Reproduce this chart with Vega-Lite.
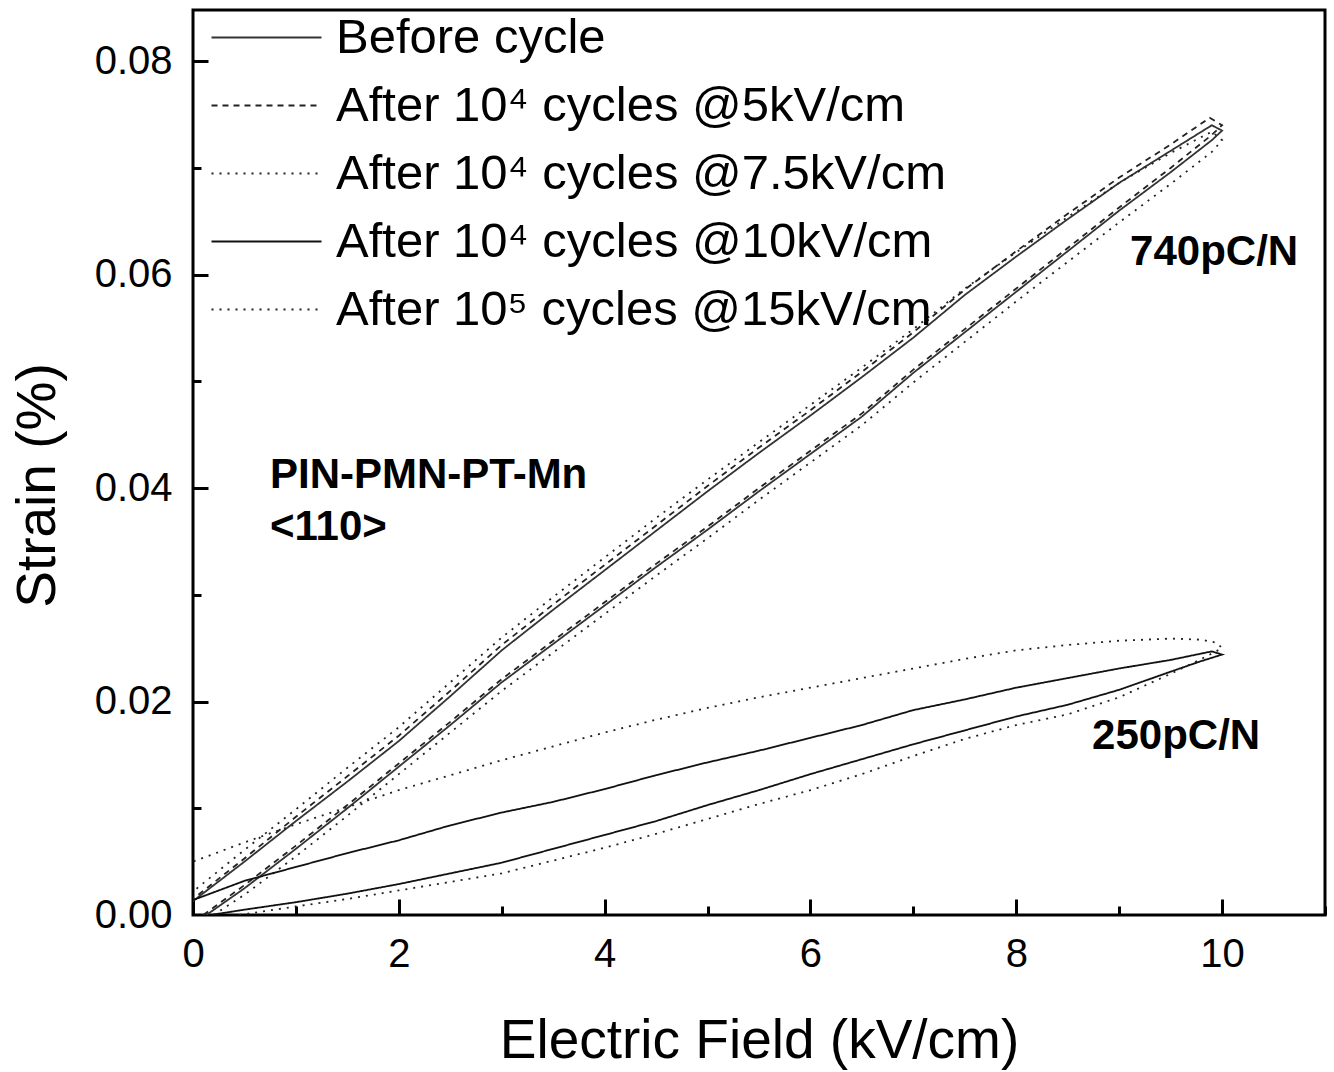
{
  "$schema": "https://vega.github.io/schema/vega-lite/v6.json",
  "autosize": "none",
  "width": 1132,
  "height": 905,
  "padding": {"left": 193, "top": 10, "right": 9, "bottom": 157},
  "background": "white",
  "config": {
    "view": {"stroke": "black", "strokeWidth": 3},
    "font": "Liberation Sans",
    "axis": {"grid": false, "labelFont": "Liberation Sans", "titleFont": "Liberation Sans", "labelColor": "black", "titleColor": "black", "tickColor": "black", "domain": false, "labelFlush": false}
  },
  "datasets": {
    "names": [
      {"s": "B", "name": "Before cycle"},
      {"s": "D", "name": "After 10⁴ cycles @5kV/cm"},
      {"s": "T", "name": "After 10⁴ cycles @7.5kV/cm"},
      {"s": "S", "name": "After 10⁴ cycles @10kV/cm"},
      {"s": "F", "name": "After 10⁵ cycles @15kV/cm"}
    ],
    "notes": [
      {"t": "740pC/N", "x": 9.106, "y": 0.0621},
      {"t": "250pC/N", "x": 8.737, "y": 0.01677},
      {"t": "PIN-PMN-PT-Mn", "x": 0.748, "y": 0.04122},
      {"t": "<110>", "x": 0.748, "y": 0.03635}
    ],
    "curves": [
      {"s":"B","o":1,"x":0.13,"y":0},{"s":"B","o":2,"x":0.5,"y":0.0025},{"s":"B","o":3,"x":1,"y":0.0062},{"s":"B","o":4,"x":1.5,"y":0.0100},{"s":"B","o":5,"x":2,"y":0.0139},{"s":"B","o":6,"x":2.5,"y":0.0178},{"s":"B","o":7,"x":3,"y":0.0218},{"s":"B","o":8,"x":3.5,"y":0.0254},{"s":"B","o":9,"x":4,"y":0.029},{"s":"B","o":10,"x":4.5,"y":0.0326},{"s":"B","o":11,"x":5,"y":0.0361},{"s":"B","o":12,"x":5.5,"y":0.0397},{"s":"B","o":13,"x":6,"y":0.0432},{"s":"B","o":14,"x":6.5,"y":0.0467},{"s":"B","o":15,"x":7,"y":0.0508},{"s":"B","o":16,"x":7.5,"y":0.0546},{"s":"B","o":17,"x":8,"y":0.0584},{"s":"B","o":18,"x":8.5,"y":0.0622},{"s":"B","o":19,"x":9,"y":0.066},{"s":"B","o":20,"x":9.5,"y":0.0696},{"s":"B","o":21,"x":9.9,"y":0.0726},{"s":"B","o":22,"x":10,"y":0.0735},
      {"s":"B","o":23,"x":9.9,"y":0.0740},{"s":"B","o":24,"x":9.5,"y":0.0716},{"s":"B","o":25,"x":9,"y":0.0686},{"s":"B","o":26,"x":8.5,"y":0.0652},{"s":"B","o":27,"x":8,"y":0.0617},{"s":"B","o":28,"x":7.5,"y":0.0581},{"s":"B","o":29,"x":7,"y":0.0541},{"s":"B","o":30,"x":6.5,"y":0.0504},{"s":"B","o":31,"x":6,"y":0.0468},{"s":"B","o":32,"x":5.5,"y":0.0433},{"s":"B","o":33,"x":5,"y":0.0397},{"s":"B","o":34,"x":4.5,"y":0.036},{"s":"B","o":35,"x":4,"y":0.0323},{"s":"B","o":36,"x":3.5,"y":0.0286},{"s":"B","o":37,"x":3,"y":0.0248},{"s":"B","o":38,"x":2.5,"y":0.0205},{"s":"B","o":39,"x":2,"y":0.0163},{"s":"B","o":40,"x":1.5,"y":0.0125},{"s":"B","o":41,"x":1,"y":0.0088},{"s":"B","o":42,"x":0.5,"y":0.005},{"s":"B","o":43,"x":0,"y":0.0013},

      {"s":"D","o":1,"x":0.1,"y":0},{"s":"D","o":2,"x":0.5,"y":0.0028},{"s":"D","o":3,"x":1,"y":0.0065},{"s":"D","o":4,"x":1.5,"y":0.0103},{"s":"D","o":5,"x":2,"y":0.0142},{"s":"D","o":6,"x":2.5,"y":0.0181},{"s":"D","o":7,"x":3,"y":0.0221},{"s":"D","o":8,"x":3.5,"y":0.0257},{"s":"D","o":9,"x":4,"y":0.0293},{"s":"D","o":10,"x":4.5,"y":0.0329},{"s":"D","o":11,"x":5,"y":0.0364},{"s":"D","o":12,"x":5.5,"y":0.04},{"s":"D","o":13,"x":6,"y":0.0435},{"s":"D","o":14,"x":6.5,"y":0.047},{"s":"D","o":15,"x":7,"y":0.0511},{"s":"D","o":16,"x":7.5,"y":0.0549},{"s":"D","o":17,"x":8,"y":0.0587},{"s":"D","o":18,"x":8.5,"y":0.0625},{"s":"D","o":19,"x":9,"y":0.0663},{"s":"D","o":20,"x":9.5,"y":0.07},{"s":"D","o":21,"x":9.9,"y":0.0731},{"s":"D","o":22,"x":10,"y":0.074},
      {"s":"D","o":23,"x":9.88,"y":0.0747},{"s":"D","o":24,"x":9.5,"y":0.0722},{"s":"D","o":25,"x":9,"y":0.0691},{"s":"D","o":26,"x":8.5,"y":0.0657},{"s":"D","o":27,"x":8,"y":0.0622},{"s":"D","o":28,"x":7.5,"y":0.0586},{"s":"D","o":29,"x":7,"y":0.0546},{"s":"D","o":30,"x":6.5,"y":0.0509},{"s":"D","o":31,"x":6,"y":0.0473},{"s":"D","o":32,"x":5.5,"y":0.0438},{"s":"D","o":33,"x":5,"y":0.0402},{"s":"D","o":34,"x":4.5,"y":0.0365},{"s":"D","o":35,"x":4,"y":0.0328},{"s":"D","o":36,"x":3.5,"y":0.0291},{"s":"D","o":37,"x":3,"y":0.0253},{"s":"D","o":38,"x":2.5,"y":0.021},{"s":"D","o":39,"x":2,"y":0.0168},{"s":"D","o":40,"x":1.5,"y":0.013},{"s":"D","o":41,"x":1,"y":0.0092},{"s":"D","o":42,"x":0.5,"y":0.0053},{"s":"D","o":43,"x":0,"y":0.0015},

      {"s":"T","o":1,"x":0.2,"y":0},{"s":"T","o":2,"x":0.5,"y":0.0019},{"s":"T","o":3,"x":1,"y":0.0055},{"s":"T","o":4,"x":1.5,"y":0.0093},{"s":"T","o":5,"x":2,"y":0.0132},{"s":"T","o":6,"x":2.5,"y":0.0171},{"s":"T","o":7,"x":3,"y":0.021},{"s":"T","o":8,"x":3.5,"y":0.0246},{"s":"T","o":9,"x":4,"y":0.0282},{"s":"T","o":10,"x":4.5,"y":0.0318},{"s":"T","o":11,"x":5,"y":0.0353},{"s":"T","o":12,"x":5.5,"y":0.0389},{"s":"T","o":13,"x":6,"y":0.0424},{"s":"T","o":14,"x":6.5,"y":0.0459},{"s":"T","o":15,"x":7,"y":0.0499},{"s":"T","o":16,"x":7.5,"y":0.0537},{"s":"T","o":17,"x":8,"y":0.0575},{"s":"T","o":18,"x":8.5,"y":0.0612},{"s":"T","o":19,"x":9,"y":0.0649},{"s":"T","o":20,"x":9.5,"y":0.0685},{"s":"T","o":21,"x":9.9,"y":0.0715},{"s":"T","o":22,"x":10,"y":0.0726},
      {"s":"T","o":23,"x":9.9,"y":0.0734},{"s":"T","o":24,"x":9.5,"y":0.0714},{"s":"T","o":25,"x":9,"y":0.0686},{"s":"T","o":26,"x":8.5,"y":0.0654},{"s":"T","o":27,"x":8,"y":0.0621},{"s":"T","o":28,"x":7.5,"y":0.0587},{"s":"T","o":29,"x":7,"y":0.0549},{"s":"T","o":30,"x":6.5,"y":0.0513},{"s":"T","o":31,"x":6,"y":0.0478},{"s":"T","o":32,"x":5.5,"y":0.0443},{"s":"T","o":33,"x":5,"y":0.0408},{"s":"T","o":34,"x":4.5,"y":0.0372},{"s":"T","o":35,"x":4,"y":0.0335},{"s":"T","o":36,"x":3.5,"y":0.0298},{"s":"T","o":37,"x":3,"y":0.026},{"s":"T","o":38,"x":2.5,"y":0.0218},{"s":"T","o":39,"x":2,"y":0.0176},{"s":"T","o":40,"x":1.5,"y":0.0138},{"s":"T","o":41,"x":1,"y":0.0099},{"s":"T","o":42,"x":0.5,"y":0.0061},{"s":"T","o":43,"x":0,"y":0.0022},

      {"s":"S","o":1,"x":0.17,"y":0},{"s":"S","o":2,"x":0.5,"y":0.0005},{"s":"S","o":3,"x":1,"y":0.0012},{"s":"S","o":4,"x":1.5,"y":0.002},{"s":"S","o":5,"x":2,"y":0.0029},{"s":"S","o":6,"x":2.5,"y":0.0039},{"s":"S","o":7,"x":3,"y":0.0049},{"s":"S","o":8,"x":3.5,"y":0.0062},{"s":"S","o":9,"x":4,"y":0.0075},{"s":"S","o":10,"x":4.5,"y":0.0088},{"s":"S","o":11,"x":5,"y":0.0103},{"s":"S","o":12,"x":5.5,"y":0.0117},{"s":"S","o":13,"x":6,"y":0.0132},{"s":"S","o":14,"x":6.5,"y":0.0146},{"s":"S","o":15,"x":7,"y":0.016},{"s":"S","o":16,"x":7.5,"y":0.0173},{"s":"S","o":17,"x":8,"y":0.0186},{"s":"S","o":18,"x":8.5,"y":0.0197},{"s":"S","o":19,"x":9,"y":0.0211},{"s":"S","o":20,"x":9.5,"y":0.0228},{"s":"S","o":21,"x":9.8,"y":0.0238},{"s":"S","o":22,"x":10,"y":0.0244},
      {"s":"S","o":23,"x":9.9,"y":0.0247},{"s":"S","o":24,"x":9.5,"y":0.0239},{"s":"S","o":25,"x":9,"y":0.0231},{"s":"S","o":26,"x":8.5,"y":0.0222},{"s":"S","o":27,"x":8,"y":0.0213},{"s":"S","o":28,"x":7.5,"y":0.0202},{"s":"S","o":29,"x":7,"y":0.0192},{"s":"S","o":30,"x":6.5,"y":0.0178},{"s":"S","o":31,"x":6,"y":0.0166},{"s":"S","o":32,"x":5.5,"y":0.0154},{"s":"S","o":33,"x":5,"y":0.0143},{"s":"S","o":34,"x":4.5,"y":0.0131},{"s":"S","o":35,"x":4,"y":0.0118},{"s":"S","o":36,"x":3.5,"y":0.0106},{"s":"S","o":37,"x":3,"y":0.0096},{"s":"S","o":38,"x":2.5,"y":0.0084},{"s":"S","o":39,"x":2,"y":0.007},{"s":"S","o":40,"x":1.5,"y":0.0058},{"s":"S","o":41,"x":1,"y":0.0045},{"s":"S","o":42,"x":0.5,"y":0.0032},{"s":"S","o":43,"x":0,"y":0.0014},

      {"s":"F","o":1,"x":0.45,"y":0},{"s":"F","o":2,"x":1,"y":0.0008},{"s":"F","o":3,"x":1.5,"y":0.0015},{"s":"F","o":4,"x":2,"y":0.0023},{"s":"F","o":5,"x":2.5,"y":0.0031},{"s":"F","o":6,"x":3,"y":0.0039},{"s":"F","o":7,"x":3.5,"y":0.0051},{"s":"F","o":8,"x":4,"y":0.0063},{"s":"F","o":9,"x":4.5,"y":0.0076},{"s":"F","o":10,"x":5,"y":0.009},{"s":"F","o":11,"x":5.5,"y":0.0104},{"s":"F","o":12,"x":6,"y":0.0117},{"s":"F","o":13,"x":6.5,"y":0.0132},{"s":"F","o":14,"x":7,"y":0.0149},{"s":"F","o":15,"x":7.5,"y":0.0165},{"s":"F","o":16,"x":8,"y":0.0178},{"s":"F","o":17,"x":8.5,"y":0.0188},{"s":"F","o":18,"x":9,"y":0.0204},{"s":"F","o":19,"x":9.5,"y":0.0226},{"s":"F","o":20,"x":9.8,"y":0.024},{"s":"F","o":21,"x":10,"y":0.025},
      {"s":"F","o":22,"x":9.95,"y":0.0255},{"s":"F","o":23,"x":9.8,"y":0.0258},{"s":"F","o":24,"x":9.5,"y":0.0259},{"s":"F","o":25,"x":9,"y":0.0257},{"s":"F","o":26,"x":8.5,"y":0.0253},{"s":"F","o":27,"x":8,"y":0.0248},{"s":"F","o":28,"x":7.5,"y":0.024},{"s":"F","o":29,"x":7,"y":0.0231},{"s":"F","o":30,"x":6.5,"y":0.0222},{"s":"F","o":31,"x":6,"y":0.0213},{"s":"F","o":32,"x":5.5,"y":0.0204},{"s":"F","o":33,"x":5,"y":0.0194},{"s":"F","o":34,"x":4.5,"y":0.0183},{"s":"F","o":35,"x":4,"y":0.0171},{"s":"F","o":36,"x":3.5,"y":0.0158},{"s":"F","o":37,"x":3,"y":0.0145},{"s":"F","o":38,"x":2.5,"y":0.0131},{"s":"F","o":39,"x":2,"y":0.0117},{"s":"F","o":40,"x":1.5,"y":0.0101},{"s":"F","o":41,"x":1,"y":0.0085},{"s":"F","o":42,"x":0.5,"y":0.0068},{"s":"F","o":43,"x":0,"y":0.005}
    ]
  },
  "layer": [
    {
      "data": {"name": "curves"},
      "transform": [
        {"lookup": "s", "from": {"data": {"name": "names"}, "key": "s", "fields": ["name"]}}
      ],
      "mark": {"type": "line", "strokeWidth": 1.8, "clip": true},
      "encoding": {
        "x": {
          "field": "x", "type": "quantitative",
          "scale": {"domain": [0, 11], "nice": false, "zero": false},
          "axis": {
            "orient": "bottom",
            "values": [0, 2, 4, 6, 8, 10], "format": "d",
            "ticks": false,
            "labelFontSize": 40, "labelPadding": 19,
            "title": "Electric Field (kV/cm)", "titleFontSize": 55, "titleFontWeight": "normal", "titlePadding": 40
          }
        },
        "y": {
          "field": "y", "type": "quantitative",
          "scale": {"domain": [0, 0.0848], "nice": false, "zero": false},
          "axis": {
            "orient": "left",
            "values": [0, 0.02, 0.04, 0.06, 0.08], "format": ".2f",
            "ticks": false,
            "labelFontSize": 40, "labelPadding": 21,
            "title": "Strain (%)", "titleFontSize": 55, "titleFontWeight": "normal", "titlePadding": 28, "titleY": 475
          }
        },
        "order": {"field": "o", "type": "quantitative"},
        "detail": {"field": "s"},
        "color": {
          "field": "name", "type": "nominal",
          "scale": {
            "domain": ["Before cycle", "After 10⁴ cycles @5kV/cm", "After 10⁴ cycles @7.5kV/cm", "After 10⁴ cycles @10kV/cm", "After 10⁵ cycles @15kV/cm"],
            "range": ["#333333", "#222222", "#222222", "#111111", "#222222"]
          },
          "legend": {
            "title": null, "orient": "none", "legendX": 49, "legendY": 3,
            "symbolType": "M-5,0H5", "symbolSize": 484, "symbolStrokeWidth": 2, "symbolFillColor": "transparent",
            "labelFontSize": 49, "labelFont": "Liberation Sans", "labelColor": "black",
            "labelOffset": 45, "rowPadding": 18, "labelLimit": 0, "padding": 0
          }
        },
        "strokeDash": {
          "field": "name", "type": "nominal",
          "scale": {
            "domain": ["Before cycle", "After 10⁴ cycles @5kV/cm", "After 10⁴ cycles @7.5kV/cm", "After 10⁴ cycles @10kV/cm", "After 10⁵ cycles @15kV/cm"],
            "range": [[1, 0], [6, 5], [2, 6], [1, 0], [2, 6]]
          },
          "legend": {
            "title": null, "orient": "none", "legendX": 49, "legendY": 3,
            "symbolType": "M-5,0H5", "symbolSize": 484, "symbolStrokeWidth": 2, "symbolFillColor": "transparent",
            "labelFontSize": 49, "labelFont": "Liberation Sans", "labelColor": "black",
            "labelOffset": 45, "rowPadding": 18, "labelLimit": 0, "padding": 0
          }
        }
      }
    },
    {
      "data": {"name": "notes"},
      "mark": {"type": "text", "align": "left", "baseline": "middle", "fontSize": 42, "fontWeight": "bold", "font": "Liberation Sans", "color": "black"},
      "encoding": {
        "x": {
          "field": "x", "type": "quantitative",
          "axis": {
            "orient": "top", "offset": -905,
            "values": [0, 1, 2, 3, 4, 5, 6, 7, 8, 9, 10, 11],
            "labels": false, "title": null, "tickWidth": 3,
            "tickSize": {"condition": {"test": "datum.value % 2 === 0", "value": 16}, "value": 9}
          }
        },
        "y": {
          "field": "y", "type": "quantitative",
          "axis": {
            "orient": "right", "offset": -1132,
            "values": [0.01, 0.02, 0.03, 0.04, 0.05, 0.06, 0.07, 0.08],
            "labels": false, "title": null, "tickWidth": 3,
            "tickSize": {"condition": {"test": "abs(datum.value * 50 - round(datum.value * 50)) < 0.001", "value": 15}, "value": 8}
          }
        },
        "text": {"field": "t"}
      }
    }
  ],
  "resolve": {"axis": {"x": "independent", "y": "independent"}}
}
